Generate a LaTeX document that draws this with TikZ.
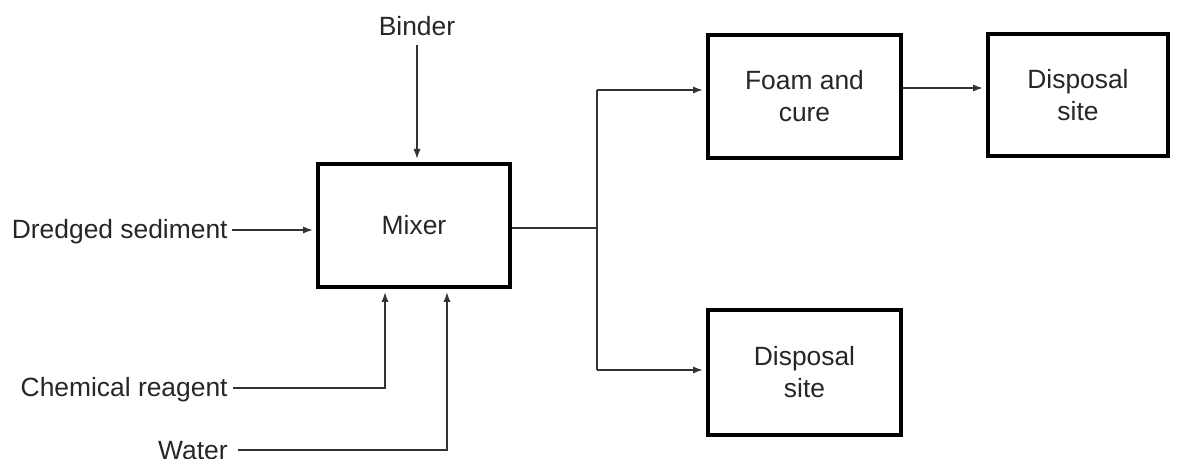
\documentclass[tikz,border=0pt]{standalone}
\usepackage{fontspec}
\setmainfont{Liberation Sans}
\usetikzlibrary{arrows.meta}
\begin{document}
\begin{tikzpicture}[x=0.5pt,y=-0.5pt,
  every node/.style={font=\fontsize{13.2}{16}\selectfont, text=black!85},
  box/.style={draw=black, line width=2pt, inner sep=0pt, align=center},
  lbl/.style={inner sep=0pt},
  conn/.style={draw=black!80, line width=0.75pt},
  arr/.style={conn, -{Latex[length=5pt,width=3.6pt]}, shorten >=1.5pt}
]
\useasboundingbox (0,0) rectangle (1179,459);
% boxes
\node[box, minimum width=96pt, minimum height=61.5pt] (mixer) at (414,225.5) {Mixer};
\node[box, minimum width=96.5pt, minimum height=61.5pt] (foam) at (804.5,96.5) {Foam and\\cure};
\node[box, minimum width=90pt, minimum height=61pt] (disp1) at (1078,95) {Disposal\\site};
\node[box, minimum width=96.5pt, minimum height=62.5pt] (disp2) at (804.5,372.5) {Disposal\\site};
% labels
\node[lbl, anchor=base] (binder) at (417,36) {Binder};
\node[lbl, anchor=base east] (dred) at (228,239) {Dredged sediment};
\node[lbl, anchor=base east] (chem) at (228,397) {Chemical reagent};
\node[lbl, anchor=base east] (water) at (228,460) {Water};
% coordinates
\coordinate (j) at (597,228);
\coordinate (jt) at (597,90);
\coordinate (jb) at (597,370);
\coordinate (cup) at (385,388);
\coordinate (wup) at (447,450);
\coordinate (bt) at (417,45);
% connectors
\draw[arr] (bt) -- (bt |- mixer.north);
\draw[arr, shorten <=2pt] (dred.east |- 0,230) -- (mixer.west |- 0,230);
\draw[arr, shorten <=2.5pt] (chem.east |- cup) -| (cup |- mixer.south);
\draw[arr, shorten <=5pt] (water.east |- wup) -| (wup |- mixer.south);
\draw[conn] (mixer.east |- j) -- (j);
\draw[conn] (jt) -- (jb);
\draw[arr] (jt) -- (jt -| foam.west);
\draw[arr] (jb) -- (jb -| disp2.west);
\draw[arr] (foam.east |- 0,88) -- (disp1.west |- 0,88);
\end{tikzpicture}
\end{document}
